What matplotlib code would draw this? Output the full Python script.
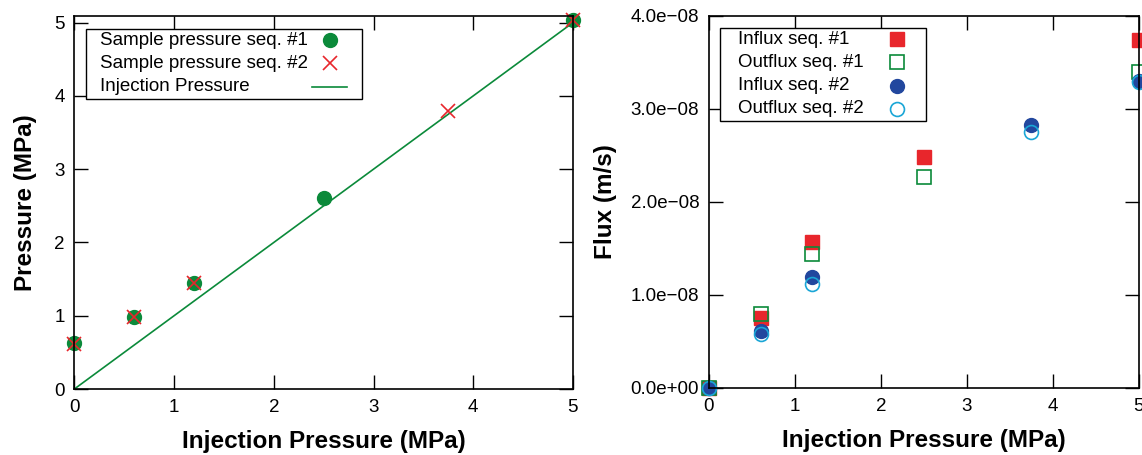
import matplotlib.pyplot as plt
from matplotlib.patches import Rectangle
from matplotlib.ticker import FuncFormatter

plt.rcParams['font.family'] = ['Liberation Sans', 'DejaVu Sans']

# pressure data (MPa)
p_inj = [0, 5]
x_seq1 = [0, 0.6, 1.2, 2.5, 5]
p_seq1 = [0.63, 0.98, 1.44, 2.6, 5.03]
x_seq2 = [0, 0.6, 1.2, 3.75, 5]
p_seq2 = [0.62, 0.98, 1.45, 3.79, 5.03]

# flux data (m/s)
influx1 = [0, 7.5e-9, 1.57e-8, 2.48e-8, 3.74e-8]
outflux1 = [0, 7.9e-9, 1.44e-8, 2.27e-8, 3.39e-8]
influx2 = [0, 6.1e-9, 1.19e-8, 2.83e-8, 3.30e-8]
outflux2 = [0, 5.8e-9, 1.12e-8, 2.75e-8, 3.29e-8]

green = '#0b8a3a'
red = '#e8262c'
blue = '#22479e'
cyan = '#1aa6d6'

st_seq1 = dict(marker='o', color=green, ms=10, ls='none')
st_seq2 = dict(marker='x', color=red, ms=10, mew=1.2, ls='none')
st_inj = dict(color=green, lw=1.2, ls='-')
st_in1 = dict(marker='s', color=red, ms=10, ls='none')
st_out1 = dict(marker='s', mfc='none', mec=green, mew=1.2, ms=10, ls='none')
st_in2 = dict(marker='o', color=blue, ms=10, ls='none')
st_out2 = dict(marker='o', mfc='none', mec=cyan, mew=1.2, ms=10, ls='none')


def key_box(ax, box, text_x, mark_x, rows, fs=13.5):
    # gnuplot-style key: text left aligned, sample on the right
    x0, y0, x1, y1 = box
    ax.add_patch(Rectangle((x0, y0), x1 - x0, y1 - y0, transform=ax.transAxes,
                           fill=True, fc='white', ec='black', lw=1.0,
                           clip_on=False, zorder=5))
    for y, label, style in rows:
        ax.text(text_x, y, label, transform=ax.transAxes, fontsize=fs,
                ha='left', va='center', zorder=6)
        if style.get('ls') == '-':
            ax.plot([mark_x - 0.035, mark_x + 0.035], [y, y],
                    transform=ax.transAxes, clip_on=False, zorder=6, **style)
        else:
            ax.plot([mark_x], [y], transform=ax.transAxes, clip_on=False,
                    zorder=6, **style)


fig = plt.figure(figsize=(11.42, 4.55), dpi=100)
ax1 = fig.add_axes([0.0651, 0.145, 0.4366, 0.8198])
ax2 = fig.add_axes([0.6208, 0.1473, 0.3765, 0.8182])

# left: pressure
ax1.plot(p_inj, p_inj, **st_inj)
ax1.plot(x_seq1, p_seq1, clip_on=False, **st_seq1)
ax1.plot(x_seq2, p_seq2, clip_on=False, **st_seq2)
ax1.set_xlim(0, 5)
ax1.set_ylim(0, 5.09)
ax1.set_xticks(range(6))
ax1.set_yticks(range(6))
ax1.set_xlabel('Injection Pressure (MPa)', fontsize=17.5, fontweight='bold',
               labelpad=10)
ax1.set_ylabel('Pressure (MPa)', fontsize=17.5, fontweight='bold', labelpad=12)
key_box(ax1, (0.0233, 0.7775, 0.577, 0.965), 0.0513, 0.5124,
        [(0.9357, 'Sample pressure seq. #1', st_seq1),
         (0.874, 'Sample pressure seq. #2', st_seq2),
         (0.8097, 'Injection Pressure', st_inj)])

# right: flux
ax2.plot(x_seq1, influx1, clip_on=False, **st_in1)
ax2.plot(x_seq1, outflux1, clip_on=False, **st_out1)
ax2.plot(x_seq2, influx2, clip_on=False, **st_in2)
ax2.plot(x_seq2, outflux2, clip_on=False, **st_out2)
ax2.set_xlim(0, 5)
ax2.set_ylim(0, 4e-8)
ax2.set_xticks(range(6))
ax2.set_yticks([0, 1e-8, 2e-8, 3e-8, 4e-8])
ax2.yaxis.set_major_formatter(FuncFormatter(
    lambda v, pos: '{:.1e}'.format(v).replace('-', '\u2212')))
ax2.set_xlabel('Injection Pressure (MPa)', fontsize=17.5, fontweight='bold',
               labelpad=10)
ax2.set_ylabel('Flux (m/s)', fontsize=17.5, fontweight='bold', labelpad=10)
key_box(ax2, (0.0256, 0.7172, 0.5047, 0.967), 0.0674, 0.437,
        [(0.9374, 'Influx seq. #1', st_in1),
         (0.8756, 'Outflux seq. #1', st_out1),
         (0.8112, 'Influx seq. #2', st_in2),
         (0.7494, 'Outflux seq. #2', st_out2)])

for ax in (ax1, ax2):
    ax.tick_params(direction='in', top=True, right=True, length=10, width=1,
                   labelsize=13.5, pad=7)
    for s in ax.spines.values():
        s.set_linewidth(1.2)

fig.savefig('out.png', dpi=100)
